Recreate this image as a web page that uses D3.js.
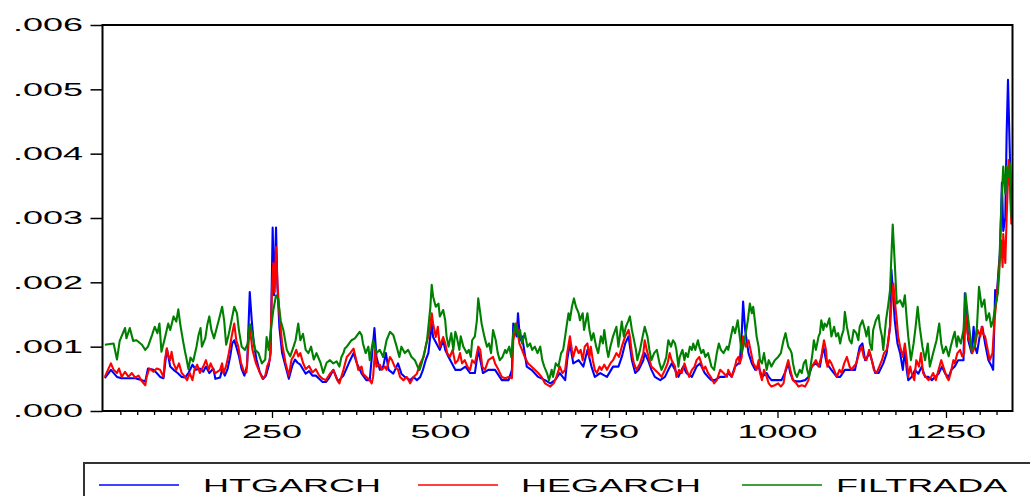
<!DOCTYPE html>
<html>
<head>
<meta charset="utf-8">
<script src="https://cdn.jsdelivr.net/npm/d3@7"></script>
<style>
  html, body { margin: 0; padding: 0; background: #fff; }
  svg { display: block; }
  text { font-family: "Liberation Sans", Arial, sans-serif; fill: #000; }
</style>
</head>
<body>
<svg id="chart" width="1030" height="496"></svg>
<script>
// Axis ticks and labels
const yTickValues = [0, .001, .002, .003, .004, .005, .006];
const yTickLabels = [".000", ".001", ".002", ".003", ".004", ".005", ".006"];
const xMajorTicks = [250, 500, 750, 1000, 1250];
const xMinorStep = 25;
const nObs = 1349;

// Series names and colours
const seriesNames = ["HTGARCH", "HEGARCH", "FILTRADA"];
const seriesColors = ["#0000ff", "#ff0000", "#008000"];

// Conditional variance series: [observation, value]
const htgarch = [
[2,.00051],[11,.00064],[20,.00053],[27,.00051],[37,.00051],[47,.00051],[57,.00048],[62,.00046],[66,.00066],[74,.00064],[79,.00059],[84,.00053],[89,.00051],[94,.00097],[99,.00069],[104,.00064],[110,.00059],[116,.00053],[121,.00052],[126,.00059],[132,.00072],[137,.00064],[143,.00066],[148,.00061],[152,.00069],[157,.00059],[163,.00066],
[166,.0005],[173,.00052],[176,.00065],[180,.00055],[184,.00065],[188,.00085],[191,.00105],[194,.0011],[197,.001],[201,.00085],[205,.00065],[209,.00055],[213,.0007],[217,.00185],[220,.0014],[223,.00105],[227,.0008],[232,.0006],[237,.0005],[241,.00055],[245,.0007],[248,.0009],[251,.00285],[253,.0018],[256,.00285],[258,.00195],[261,.0013],[265,.0009],[270,.0007],[275,.0005],[280,.0007],[284,.0008],[288,.00075],[292,.00072],[296,.00065],[300,.00058],[305,.00062],[310,.00055],[315,.00055],[320,.0005],[325,.00045],[330,.00045],[335,.00052],
[341,.00064],[348,.00046],[356,.00055],[366,.00079],[371,.0009],[376,.00074],[383,.00058],[390,.00048],[395,.00048],[402,.00129],[405,.00084],[410,.00064],[415,.00069],[419,.0009],[423,.00064],[430,.00058],[437,.00074],[442,.00058],[447,.00053],[455,.00048],[460,.00053],[465,.00048],[470,.00053],[474,.00064],[478,.00079],[482,.0009],[487,.00136],[489,.00115],[494,.00105],[499,.00095],[504,.0011],
[507,.00095],[512,.00084],[522,.00064],[530,.00064],[537,.00069],[544,.00059],[551,.00059],[556,.00095],[563,.00059],[571,.00064],[581,.00064],[591,.00048],[601,.00048],[606,.00064],[608,.00136],[613,.00116],[615,.00152],[618,.0011],[621,.00116],[628,.00069],[635,.00064],[645,.00053],[655,.00048],[663,.00043],[670,.00048],
[677,.00059],[685,.00048],[688,.00079],[692,.00105],[697,.00074],[705,.00079],[712,.00069],[718,.00095],[724,.00069],[729,.00053],[737,.00059],[747,.00053],[756,.00069],[764,.00069],[769,.00084],[774,.00105],[779,.00116],[784,.00079],[789,.00059],[794,.00064],[801,.00079],[803,.0009],[808,.00079],[813,.00064],[818,.00053],[826,.00048],[833,.00053],[838,.00064],[843,.00074],
[848,.00064],[853,.00053],[860,.00069],[865,.00059],[873,.00053],[880,.00069],[885,.00074],[892,.00059],[897,.00053],[902,.00048],[907,.00048],[915,.00053],[922,.00053],[927,.00059],[932,.00053],[937,.00069],[942,.00074],[944,.00074],[947,.00121],[949,.0017],[952,.00126],[957,.0009],[962,.00074],[967,.00064],[972,.00069],[977,.00053],[984,.00059],[987,.00053],[991,.00048],[996,.00048],[1001,.00048],[1006,.00048],[1011,.00059],[1016,.00074],
[1019,.00059],[1023,.00048],[1028,.00046],[1033,.00046],[1041,.00048],[1046,.00053],[1051,.00069],[1056,.00074],[1063,.00069],[1068,.001],[1073,.00074],[1080,.00064],[1088,.00053],[1093,.00053],[1100,.00064],[1108,.00064],[1115,.00064],[1122,.001],[1126,.00105],[1130,.00079],[1137,.0009],[1145,.00059],[1150,.00059],[1157,.00074],[1162,.0009],[1167,.00131],[1169,.0022],[1171,.0019],[1174,.00141],[1178,.00105],[1182,.0009],[1186,.00064],
[1189,.00095],[1192,.00062],[1194,.00048],[1199,.00053],[1204,.00064],[1209,.00058],[1214,.00069],[1219,.00053],[1224,.00053],[1229,.00048],[1234,.00053],[1239,.00058],[1244,.00069],[1249,.00058],[1254,.00053],[1258,.00064],[1263,.00069],[1268,.00079],[1276,.00079],[1278,.00183],[1281,.00152],[1283,.0011],[1288,.0009],[1291,.00131],[1293,.001],[1296,.0009],[1300,.00116],[1304,.00131],[1308,.00105],[1313,.00079],[1318,.00069],[1320,.00064],[1323,.00188],[1325,.00173],[1328,.0022],[1330,.00245],[1333,.00355],[1335,.0028],[1338,.003],[1340,.0043],[1342,.00515],[1345,.0039],[1347,.003]
];

const hegarch = [
[2,.00053],[11,.00074],[15,.00064],[20,.00059],[23,.00066],[27,.00053],[32,.00061],[37,.00053],[42,.00059],[47,.00052],[52,.00055],[57,.00046],[62,.0004],[64,.00053],[68,.00066],[74,.00061],[79,.00066],[84,.00064],[89,.00053],[91,.00079],[94,.00097],[96,.00087],[99,.00079],[101,.00092],[104,.00074],[108,.00064],[112,.00074],[116,.00059],[121,.00053],[124,.00048],[128,.00059],[132,.00048],[135,.00064],[139,.00072],[143,.00059],[148,.00069],[152,.00079],[156,.00064],[159,.00074],[163,.00064],
[166,.00059],[173,.00064],[176,.00074],[178,.00059],[182,.0007],[186,.0009],[190,.00115],[194,.00136],[197,.0011],[200,.001],[204,.00075],[208,.00062],[212,.0006],[217,.0013],[221,.00095],[226,.00075],[231,.00062],[236,.0005],[240,.00055],[243,.0007],[247,.0008],[250,.0019],[252,.0023],[254,.00185],[256,.00255],[258,.002],[261,.0015],[265,.00105],[270,.00075],[275,.00055],[279,.0008],[282,.00085],[286,.00095],[289,.00085],[292,.0009],[296,.00075],[300,.00065],[305,.0007],[310,.0006],[315,.00065],[320,.00055],[325,.0005],[330,.00048],
[336,.00058],[341,.00064],[346,.0005],[350,.00043],[356,.00064],[361,.00084],[366,.0009],[371,.00097],[375,.00079],[378,.00064],[383,.00069],[385,.00058],[390,.00053],[395,.00048],[398,.00043],[400,.00053],[403,.00095],[405,.00069],[410,.00072],[413,.00064],[418,.00069],[420,.00064],[425,.00084],[428,.00079],[432,.00069],[437,.00064],[440,.00053],[445,.00048],[450,.00053],[455,.00043],[460,.00053],[465,.00058],[470,.00074],[475,.00084],[478,.001],[484,.00126],[487,.00152],[489,.00136],[493,.00115],[496,.00131],[499,.001],[504,.00115],
[507,.00105],[510,.0009],[514,.00084],[518,.00095],[522,.00074],[526,.00079],[529,.0009],[532,.00074],[536,.00079],[540,.00069],[544,.00064],[547,.00079],[551,.00074],[556,.001],[559,.00095],[562,.00069],[566,.00064],[571,.00079],[578,.00084],[581,.00074],[586,.00064],[591,.00053],[596,.00051],[601,.00053],[606,.00051],[608,.0011],[613,.00136],[617,.00105],[621,.00095],[625,.00084],[630,.00074],[635,.00069],[640,.00064],[645,.00059],[650,.00053],[655,.00043],[663,.00038],[668,.00043],[672,.00053],
[677,.00069],[681,.00059],[685,.00064],[688,.0009],[692,.00116],[695,.00095],[697,.00084],[701,.001],[705,.0009],[708,.00095],[711,.00079],[714,.001],[718,.00105],[721,.00084],[723,.001],[726,.00079],[729,.00064],[732,.00059],[736,.00069],[739,.00064],[743,.00072],[747,.00064],[752,.00074],[756,.00079],[761,.0009],[765,.00084],[769,.001],[774,.00116],[779,.00126],[781,.00116],[784,.0009],[787,.00074],[791,.00064],[796,.00074],[801,.0009],[803,.0011],[806,.00095],[810,.00079],[813,.00069],[818,.00064],[823,.00059],[828,.00053],[833,.00064],[837,.00074],[840,.0009],[843,.00079],
[848,.00069],[850,.00053],[854,.00064],[858,.00059],[862,.00074],[865,.00064],[869,.00053],[873,.00064],[877,.00069],[880,.00079],[884,.00084],[887,.00074],[890,.00064],[893,.00069],[897,.00059],[901,.00053],[906,.00043],[910,.00048],[915,.00064],[920,.00059],[925,.00053],[927,.00064],[932,.00053],[936,.00064],[939,.00079],[942,.00084],[944,.00074],[947,.00084],[949,.00116],[953,.001],[957,.0011],[961,.0009],[964,.00074],[967,.00069],[969,.00064],[972,.00079],[974,.00059],[977,.00048],[980,.00064],[984,.00053],[987,.00043],[991,.00038],[996,.0004],[1001,.00043],[1005,.00038],[1009,.00043],[1012,.00064],[1016,.00079],
[1019,.00064],[1023,.00048],[1028,.00043],[1031,.00038],[1036,.0004],[1041,.00038],[1046,.00048],[1048,.00064],[1051,.00069],[1054,.00074],[1057,.00079],[1061,.00069],[1065,.00084],[1069,.0011],[1072,.00095],[1074,.00069],[1077,.00079],[1080,.00074],[1084,.00064],[1088,.00053],[1092,.00064],[1095,.00059],[1099,.00074],[1103,.00084],[1107,.00069],[1110,.00064],[1113,.00069],[1117,.00074],[1121,.0009],[1125,.001],[1128,.00084],[1132,.00079],[1136,.00095],[1140,.00079],[1143,.00064],[1147,.00059],[1151,.00069],[1155,.00079],[1158,.0009],[1162,.00095],[1164,.00105],[1167,.00131],[1169,.00167],[1172,.00198],[1174,.00172],[1177,.00141],[1179,.00116],[1182,.001],[1186,.00084],
[1189,.00105],[1192,.00079],[1194,.00053],[1197,.00069],[1199,.00059],[1203,.00048],[1206,.00079],[1210,.00069],[1213,.0009],[1216,.00059],[1220,.00053],[1224,.00048],[1228,.00053],[1231,.00059],[1235,.00048],[1239,.00064],[1243,.00079],[1246,.00069],[1251,.00053],[1254,.00048],[1257,.00059],[1261,.00079],[1263,.00074],[1267,.0009],[1271,.00095],[1274,.00085],[1277,.0009],[1279,.0015],[1282,.0012],[1286,.00105],[1289,.0009],[1293,.001],[1297,.00126],[1301,.00116],[1303,.00131],[1305,.0012],[1308,.00116],[1312,.00095],[1315,.00079],[1319,.0009],[1322,.00141],[1325,.00173],[1328,.0021],[1332,.00265],[1334,.00224],[1335,.00275],[1338,.0023],[1340,.003],[1343,.0039],[1345,.0035],[1347,.0029]
];

const filtrada = [
[2,.00103],[15,.00105],[20,.0008],[24,.00109],[32,.00129],[34,.00113],[39,.00129],[44,.00109],[49,.0011],[57,.00103],[62,.00095],[66,.001],[72,.00118],[76,.00131],[80,.00121],[83,.00136],[86,.00092],[91,.00113],[96,.00136],[99,.00126],[104,.00147],[108,.00139],[111,.00158],[114,.00134],[118,.00109],[121,.00092],[123,.00082],[126,.00065],[129,.00083],[133,.00077],[138,.001],[141,.00118],[144,.00129],[146,.001],[151,.00113],[154,.00134],[157,.00147],[160,.00126],[164,.00113],
[171,.00141],[176,.00162],[179,.00141],[182,.00103],[186,.0012],[190,.00141],[194,.00162],[198,.00152],[201,.00125],[205,.001],[210,.00095],[214,.00105],[217,.00135],[221,.0012],[225,.00095],[230,.0009],[235,.00074],[240,.0008],[242,.00115],[245,.00095],[249,.00131],[252,.00157],[256,.0018],[259,.00175],[263,.0014],[267,.00125],[272,.00095],[277,.00085],[282,.001],[285,.0011],[289,.00136],[292,.0011],[296,.0012],[300,.00095],[304,.0009],[308,.001],[312,.0008],[316,.0009],[322,.00075],[326,.00059],[331,.00075],
[336,.00079],[341,.00074],[346,.00077],[350,.00069],[353,.00084],[356,.0009],[358,.00097],[361,.001],[368,.0011],[373,.00113],[380,.00123],[383,.00118],[385,.00105],[389,.0009],[393,.001],[395,.00079],[400,.0011],[405,.0009],[410,.00095],[415,.00084],[420,.0011],[425,.00123],[430,.00118],[435,.001],[439,.00084],[442,.001],[447,.0009],[452,.00095],[457,.00084],[462,.00079],[466,.00069],[469,.00064],[472,.00074],[477,.00095],[480,.0011],[483,.00141],[485,.00162],[487,.00196],[489,.00178],[493,.00162],[497,.00167],[499,.00147],[504,.00157],
[507,.00141],[509,.00116],[512,.001],[516,.00121],[519,.00095],[522,.00123],[524,.00116],[528,.00095],[530,.00116],[534,.001],[539,.0009],[542,.00095],[545,.00084],[547,.0011],[551,.00116],[554,.00141],[556,.00175],[559,.00152],[561,.00136],[565,.00116],[569,.001],[572,.00105],[575,.0009],[578,.00126],[582,.0011],[585,.0009],[588,.00079],[592,.00084],[596,.00095],[598,.0009],[602,.001],[605,.00084],[608,.00121],[611,.00136],[615,.00116],[618,.00126],[621,.00105],[625,.00121],[629,.001],[633,.00105],[636,.00095],[640,.001],[644,.0009],[648,.001],[651,.00079],[654,.00069],[658,.00059],[661,.00048],[665,.00064],[667,.00053],[671,.00074],[675,.00069],
[679,.0009],[682,.00095],[685,.00116],[687,.00131],[690,.00152],[692,.00141],[695,.00162],[698,.00175],[701,.00162],[705,.00152],[707,.00141],[711,.00152],[713,.00126],[716,.00141],[718,.00152],[721,.00126],[724,.0011],[727,.00121],[731,.001],[734,.0009],[738,.00116],[741,.00105],[743,.00126],[747,.00095],[749,.00084],[752,.001],[756,.00116],[761,.00131],[764,.001],[769,.00139],[772,.00116],[775,.00131],[779,.00141],[781,.00147],[784,.00126],[786,.00116],[790,.00095],[792,.00079],[796,.00095],[800,.00116],[803,.00131],[807,.00116],[810,.00095],[813,.00079],[817,.0009],[821,.00095],[825,.00074],[828,.00064],[832,.00074],[835,.00084],[838,.0011],[842,.001],[845,.0011],
[848,.00105],[850,.00095],[853,.00069],[855,.00084],[859,.00095],[862,.00079],[864,.0009],[867,.00084],[870,.001],[873,.00095],[875,.00105],[878,.00095],[882,.0011],[884,.001],[887,.0009],[890,.00095],[893,.00084],[897,.0009],[902,.00069],[906,.00064],[910,.0009],[913,.00105],[916,.00095],[920,.0009],[925,.001],[927,.00095],[931,.00116],[934,.00131],[937,.00121],[941,.00141],[944,.00116],[947,.0009],[949,.001],[953,.00121],[956,.00141],[959,.00167],[962,.00152],[964,.00162],[967,.00136],[969,.00116],[972,.001],[974,.00079],[977,.00074],[980,.0009],[984,.00064],[987,.00079],[991,.00069],[996,.00079],[1001,.00084],[1005,.0009],[1009,.0011],[1012,.00121],[1016,.001],
[1019,.00095],[1021,.0009],[1023,.00074],[1026,.00059],[1029,.00053],[1033,.00064],[1036,.00059],[1039,.00074],[1042,.00079],[1044,.00064],[1047,.00053],[1049,.00069],[1052,.0009],[1054,.0011],[1057,.00095],[1061,.00116],[1063,.00121],[1065,.00141],[1068,.00126],[1070,.00136],[1073,.00131],[1077,.00144],[1080,.00116],[1084,.00131],[1087,.00116],[1090,.00121],[1093,.00105],[1095,.00116],[1098,.00126],[1100,.00154],[1103,.00131],[1107,.0011],[1110,.00105],[1113,.00126],[1117,.00121],[1120,.0011],[1122,.00131],[1126,.00141],[1130,.00126],[1132,.00116],[1135,.00131],[1137,.00105],[1140,.00095],[1142,.00126],[1146,.00141],[1150,.00149],[1152,.00131],[1155,.00116],[1157,.00095],[1161,.00141],[1164,.00162],[1167,.00188],[1169,.0024],[1171,.0029],[1174,.0023],[1177,.00167],[1182,.00172],[1186,.00162],
[1189,.0018],[1192,.0014],[1194,.00116],[1198,.00079],[1202,.00105],[1205,.00131],[1208,.00162],[1211,.00131],[1215,.001],[1219,.00079],[1223,.00105],[1226,.00069],[1231,.0009],[1236,.0011],[1240,.00136],[1243,.00105],[1246,.0009],[1250,.001],[1254,.00085],[1257,.001],[1261,.00116],[1263,.00123],[1266,.001],[1268,.00116],[1272,.00105],[1276,.00126],[1279,.00183],[1282,.00152],[1286,.00116],[1288,.00095],[1292,.001],[1296,.00131],[1299,.00193],[1303,.00162],[1307,.00173],[1310,.00141],[1314,.00152],[1317,.00131],[1320,.00141],[1324,.00167],[1327,.00183],[1329,.00214],[1330,.00255],[1333,.00338],[1335,.0038],[1338,.00338],[1340,.0038],[1343,.00365],[1345,.00385],[1347,.003]
];

const seriesData = [htgarch, hegarch, filtrada];

// Layout
const frame = { left: 102.5, right: 1012.5, top: 25, bottom: 411 };
const svg = d3.select("#chart");

const x = d3.scaleLinear().domain([0, nObs]).range([103.5, 1012.7]);
const y = d3.scaleLinear().domain([0, .006]).range([411, 25]);

// Clip the lines to the plotting frame
svg.append("defs").append("clipPath").attr("id", "plotClip")
  .append("rect")
  .attr("x", frame.left).attr("y", frame.top)
  .attr("width", frame.right - frame.left).attr("height", frame.bottom - frame.top);

// Series lines (blue first, then red, then green on top)
const line = d3.line().x(d => x(d[0])).y(d => y(d[1]));
svg.append("g").attr("clip-path", "url(#plotClip)")
  .selectAll("path").data(seriesData).join("path")
  .attr("d", line)
  .attr("fill", "none")
  .attr("stroke", (d, i) => seriesColors[i])
  .attr("stroke-width", 2.1)
  .attr("stroke-linejoin", "round");

// Y axis ticks
const yAxis = d3.axisLeft(y).tickValues(yTickValues).tickSize(12).tickFormat("");
const gy = svg.append("g").attr("transform", `translate(${frame.left},0)`).call(yAxis);
gy.select(".domain").remove();
gy.selectAll(".tick line").attr("stroke", "#000").attr("stroke-width", 1.5);

// Y tick labels (wide Arial-like digits)
svg.append("g").selectAll("text").data(yTickValues).join("text")
  .attr("transform", d => `translate(83,${y(d) + 6.2}) scale(2,1)`)
  .attr("text-anchor", "end")
  .attr("font-size", 18)
  .text((d, i) => yTickLabels[i]);

// X axis minor and major ticks
const minorTicks = d3.range(xMinorStep, nObs, xMinorStep).filter(v => !xMajorTicks.includes(v));
const gxMinor = svg.append("g").attr("transform", `translate(0,${frame.bottom})`)
  .call(d3.axisBottom(x).tickValues(minorTicks).tickSize(4).tickFormat(""));
const gxMajor = svg.append("g").attr("transform", `translate(0,${frame.bottom})`)
  .call(d3.axisBottom(x).tickValues(xMajorTicks).tickSize(7).tickFormat(""));
[gxMinor, gxMajor].forEach(g => {
  g.select(".domain").remove();
  g.selectAll(".tick line").attr("stroke", "#000").attr("stroke-width", 1.3);
});

// X tick labels
svg.append("g").selectAll("text").data(xMajorTicks).join("text")
  .attr("transform", d => `translate(${x(d)},438) scale(2,1)`)
  .attr("text-anchor", "middle")
  .attr("font-size", 18)
  .text(d => d);

// Plot frame
svg.append("rect")
  .attr("x", frame.left).attr("y", frame.top)
  .attr("width", frame.right - frame.left).attr("height", frame.bottom - frame.top)
  .attr("fill", "none").attr("stroke", "#000").attr("stroke-width", 2);

// Legend box (runs past the bottom and right edges)
svg.append("rect")
  .attr("x", 84).attr("y", 463).attr("width", 1000).attr("height", 60)
  .attr("fill", "#fff").attr("stroke", "#333").attr("stroke-width", 2);

const legendLineX = [99, 418, 742];
const legendTextX = [203, 521, 836];
const legend = svg.append("g");
seriesNames.forEach((name, i) => {
  legend.append("line")
    .attr("x1", legendLineX[i]).attr("x2", legendLineX[i] + 80)
    .attr("y1", 485).attr("y2", 485)
    .attr("stroke", seriesColors[i]).attr("stroke-width", 1.6);
  legend.append("text")
    .attr("transform", `translate(${legendTextX[i]},492) scale(2,1)`)
    .attr("font-size", 18)
    .text(name);
});
</script>
</body>
</html>
